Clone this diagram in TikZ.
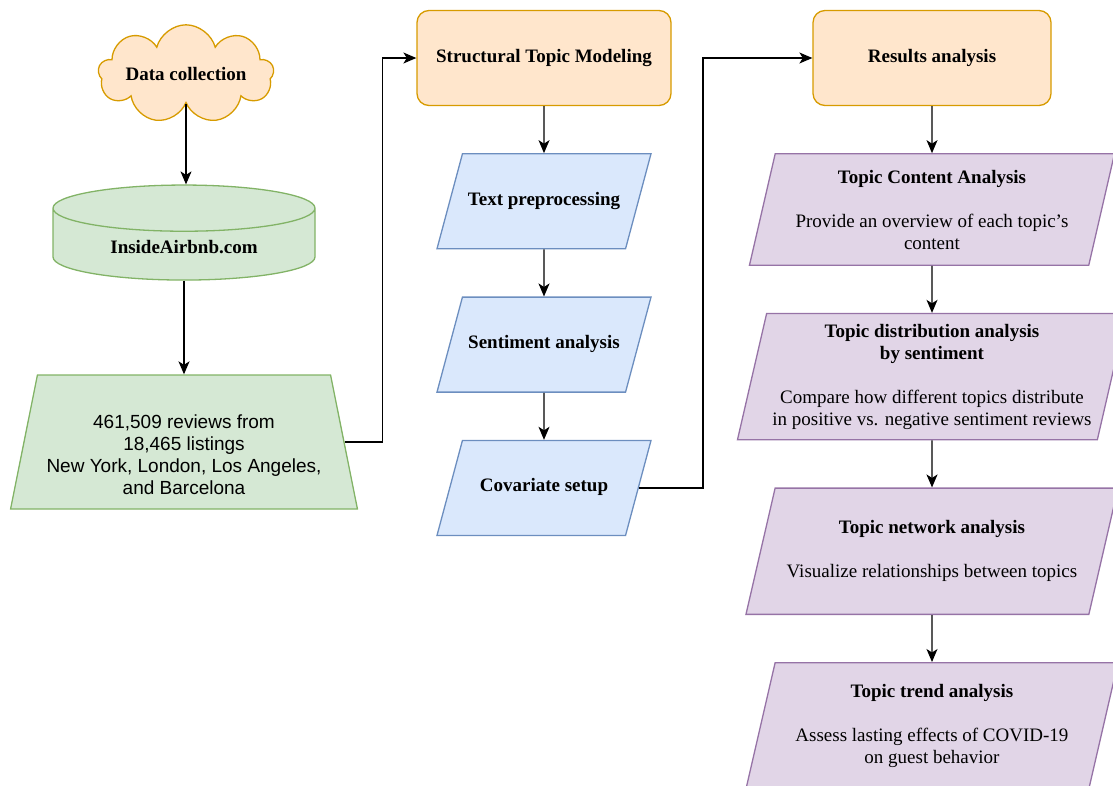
\documentclass[tikz,border=0pt]{standalone}
\usepackage{fontspec}
\setmainfont{Liberation Serif}
\newfontfamily\arialfont{Liberation Sans}
\usetikzlibrary{positioning,shapes.geometric,shapes.symbols,arrows.meta}

\definecolor{orangefill}{HTML}{FFE6CC}
\definecolor{orangeline}{HTML}{D79B00}
\definecolor{greenfill}{HTML}{D5E8D4}
\definecolor{greenline}{HTML}{82B366}
\definecolor{bluefill}{HTML}{DAE8FC}
\definecolor{blueline}{HTML}{6C8EBF}
\definecolor{purplefill}{HTML}{E1D5E7}
\definecolor{purpleline}{HTML}{9673A6}

\tikzset{
  base/.style={draw, align=center, font=\fontsize{19}{22}\selectfont},
  boldbase/.style={base, font=\fontsize{19}{22}\selectfont\bfseries},
  cloudbox/.style={boldbase, cloud, cloud puffs=9, aspect=3, inner sep=0pt, fill=orangefill, draw=orangeline},
  dbbox/.style={boldbase, cylinder, shape border rotate=90, aspect=0.3, fill=greenfill, draw=greenline, minimum width=262pt, minimum height=95pt},
  trapbox/.style={base, trapezium, trapezium left angle=77, trapezium right angle=77, trapezium stretches=true, fill=greenfill, draw=greenline, font=\arialfont\fontsize{19}{22}\selectfont},
  stagebox/.style={boldbase, rounded corners=12pt, fill=orangefill, draw=orangeline, minimum height=95pt},
  stepbox/.style={boldbase, trapezium, trapezium left angle=75, trapezium right angle=105, trapezium stretches body=true, text height=13pt, text depth=5pt, inner ysep=38.5pt, fill=bluefill, draw=blueline, minimum width=214pt},
  topicbox/.style={base, trapezium, trapezium left angle=77, trapezium right angle=103, trapezium stretches body=true, inner xsep=0pt, fill=purplefill, draw=purpleline}
}

\begin{document}
\begin{tikzpicture}[x=1pt, y=-1pt, line width=1.3pt, node distance=47pt, >={Stealth[length=13pt,width=11pt,inset=3.5pt]}]
  \useasboundingbox (0,0) rectangle (1113,785);

  % left column
  \node[cloudbox] (cloud) at (186,74) {Data collection};
  \node[dbbox] (db) at (184,247) {InsideAirbnb.com};
  \node[trapbox, minimum width=348pt, minimum height=134pt] (rev) at (184,442)
    {\rule{0pt}{39pt}461,509 reviews from\\18,465 listings\\New York, London, Los Angeles,\\and Barcelona};

  % middle column
  \node[stagebox, minimum width=254pt] (stm) at (544,58) {Structural Topic Modeling};
  \node[stepbox, below=of stm] (prep) {Text preprocessing};
  \node[stepbox, below=of prep] (sent) {Sentiment analysis};
  \node[stepbox, below=of sent] (cov) {Covariate setup};

  % right column
  \node[stagebox, minimum width=238pt] (res) at (932,58) {Results analysis};
  \node[topicbox, inner ysep=16pt, minimum width=365pt, below=of res] (tc)
    {\textbf{Topic Content Analysis}\\[22pt]Provide an overview of each topic's\\content};
  \node[topicbox, inner ysep=10.5pt, minimum width=389pt, below=of tc] (td)
    {\textbf{Topic distribution analysis}\\\textbf{by sentiment}\\[22pt]Compare how different topics distribute\\in positive vs. negative sentiment reviews};
  \node[topicbox, inner ysep=32.5pt, minimum width=372pt, below=of td] (tn)
    {\textbf{Topic network analysis}\\[22pt]Visualize relationships between topics};
  \node[topicbox, inner ysep=21.5pt, minimum width=372pt, below=of tn] (tt)
    {\textbf{Topic trend analysis}\\[22pt]Assess lasting effects of COVID-19\\on guest behavior};

  \draw[->] (cloud.south) -- (db.north -| cloud.south);
  \draw[->] (db) -- (rev);
  \draw[->] (rev.east) -- ++(38,0) |- (stm.west);
  \draw[->] (stm) -- (prep);
  \draw[->] (prep) -- (sent);
  \draw[->] (sent) -- (cov);
  \draw[->] (cov.east) -- ++(64,0) |- (res.west);
  \draw[->] (res) -- (tc);
  \draw[->] (tc) -- (td);
  \draw[->] (td) -- (tn);
  \draw[->] (tn) -- (tt);
\end{tikzpicture}
\end{document}
